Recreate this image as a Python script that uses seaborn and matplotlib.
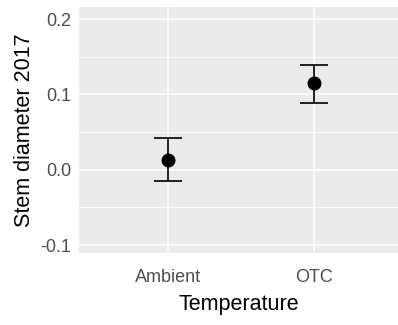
import numpy as np
import pandas as pd
import matplotlib
matplotlib.use("Agg")
from matplotlib import pyplot as plt
from matplotlib.ticker import MultipleLocator
import seaborn as sns

# values
treatments = ["Ambient", "OTC"]
means = [0.013, 0.115]
lower = [-0.015, 0.089]
upper = [0.042, 0.139]

sns.set_theme(style="darkgrid", rc={"axes.facecolor": "#EBEBEB", "grid.color": "white"})
plt.rcParams["font.family"] = ["Liberation Sans", "DejaVu Sans"]

df = pd.DataFrame({"Temperature": treatments, "mean": means,
                   "lower": lower, "upper": upper})

fig = plt.figure(figsize=(3.98, 3.25), dpi=100)
ax = fig.add_axes([79 / 398, 72 / 325, 1 - 79 / 398, 246 / 325])

# error bars (mean +/- error) from the table
yerr = [df["mean"] - df["lower"], df["upper"] - df["mean"]]
ax.errorbar(x=np.arange(len(df)), y=df["mean"], yerr=yerr, fmt="none",
            ecolor="black", elinewidth=1.2, capsize=10.4, capthick=1.2, zorder=3)
sns.pointplot(data=df, x="Temperature", y="mean", errorbar=None, color="black",
              linestyle="none", markersize=8, ax=ax, zorder=4)

ax.set_xlim(-0.61, 1.575)
ax.set_ylim(-0.1106, 0.216)
ax.yaxis.set_major_locator(MultipleLocator(0.1))
ax.yaxis.set_minor_locator(MultipleLocator(0.05))
ax.set_yticks([-0.1, 0.0, 0.1, 0.2], ["-0.1", "0.0", "0.1", "0.2"])
ax.grid(which="major", color="white", linewidth=1.1)
ax.grid(which="minor", axis="y", color="white", linewidth=0.55)
for s in ax.spines.values():
    s.set_visible(False)

ax.tick_params(axis="both", which="major", length=3.6, width=0.8, color="#333333",
               labelcolor="#4D4D4D", labelsize=13, pad=2)
ax.tick_params(axis="y", which="minor", length=0)
ax.tick_params(axis="x", pad=8)

ax.set_xlabel("Temperature", fontsize=15.5, color="black", labelpad=6)
ax.set_ylabel("Stem diameter 2017", fontsize=15.5, color="black", labelpad=4)

fig.savefig("out.png", dpi=100)
